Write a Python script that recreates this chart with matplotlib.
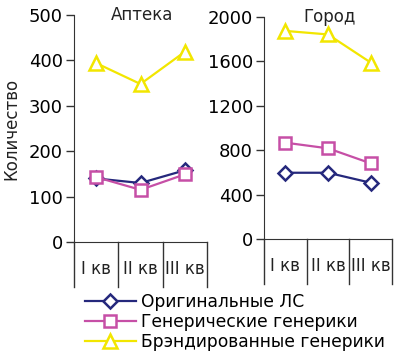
import matplotlib.pyplot as plt
from matplotlib.lines import Line2D

kvartaly = ["I кв", "II кв", "III кв"]
serii = ["Оригинальные ЛС", "Генерические генерики", "Брэндированные генерики"]

# Аптека
apteka_orig = [140, 130, 158]
apteka_gen = [143, 115, 149]
apteka_brand = [394, 348, 419]

# Город
gorod_orig = [597, 597, 507]
gorod_gen = [868, 817, 682]
gorod_brand = [1875, 1843, 1590]

cveta = ["#25287c", "#c64fa6", "#f2e600"]
markery = ["D", "s", "^"]
razmery = [7, 9, 10]

plt.rcParams["font.family"] = "DejaVu Sans"

fig = plt.figure(figsize=(4, 3.57), dpi=100)
ax1 = fig.add_axes([0.185, 0.322, 0.3325, 0.636])
ax2 = fig.add_axes([0.66, 0.3305, 0.32, 0.6218])


def risovat(ax, dannye, ymax, shag, nazvanie, niz):
    x = [0, 1, 2]
    for d, c, m, s in zip(dannye, cveta, markery, razmery):
        ax.plot(x, d, color=c, lw=1.6, marker=m, ms=s, mfc="white",
                mec=c, mew=1.8, clip_on=False)
    ax.set_xlim(-0.5, 2.5)
    ax.set_ylim(0, ymax)
    ax.set_yticks(range(0, ymax + 1, shag))
    ax.tick_params(axis="y", labelsize=13, length=6, width=1, direction="out",
                   color="#333333", pad=2)
    ax.set_xticks([])
    for s in ["top", "right"]:
        ax.spines[s].set_visible(False)
    ax.spines["left"].set_color("#333333")
    ax.spines["bottom"].set_color("#333333")
    # вертикальные разделители кварталов под осью
    for gx in [-0.5, 0.5, 1.5, 2.5]:
        ax.plot([gx, gx], [0, niz], transform=ax.get_xaxis_transform(),
                color="#333333", lw=1, clip_on=False)
    for i, k in enumerate(kvartaly):
        ax.text(i, niz * 0.6, k, transform=ax.get_xaxis_transform(),
                ha="center", va="center", fontsize=12, color="#222222")
    ax.text(0.51, 1.0, nazvanie, transform=ax.transAxes, ha="center",
            va="center", fontsize=12, color="#222222")


risovat(ax1, [apteka_orig, apteka_gen, apteka_brand], 500, 100, "Аптека", -0.198)
risovat(ax2, [gorod_orig, gorod_gen, gorod_brand], 2000, 400, "Город", -0.203)

ax1.set_ylabel("Количество", fontsize=12, color="#222222", labelpad=6)

ruchki = [Line2D([], [], color=c, lw=1.6, marker=m, ms=s, mfc="white",
                 mec=c, mew=1.8)
          for c, m, s in zip(cveta, markery, razmery)]
fig.legend(ruchki, serii, loc="upper left", bbox_to_anchor=(0.212, 0.18),
           frameon=False, fontsize=12.3, handlelength=3.0, handletextpad=0.3,
           labelspacing=0.12, borderpad=0, borderaxespad=0, numpoints=1)

fig.savefig("out.png", dpi=100)
